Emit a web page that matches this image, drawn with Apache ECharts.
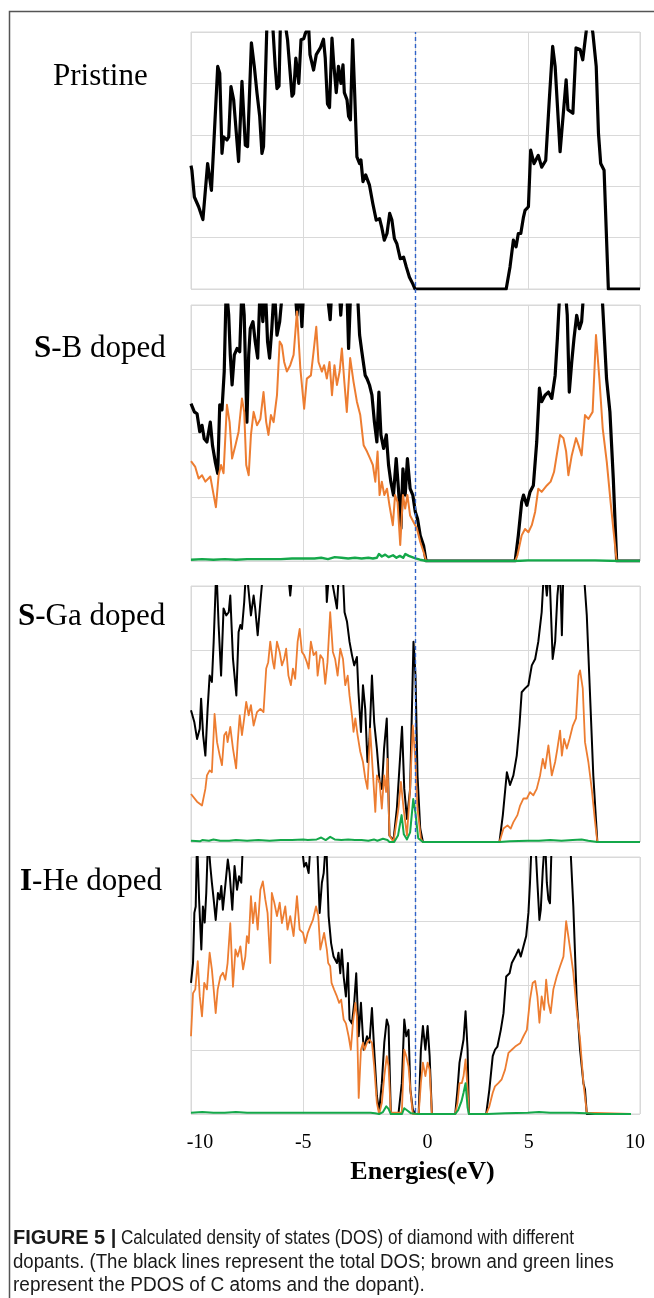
<!DOCTYPE html>
<html>
<head>
<meta charset="utf-8">
<script src="https://cdn.jsdelivr.net/npm/echarts@6/dist/echarts.min.js"></script>
<style>
  html, body { margin: 0; padding: 0; background: #ffffff; }
  #chart { width: 654px; height: 1298px; }
</style>
</head>
<body>
<div id="chart"></div>
<script>
// Energy axis ticks (eV)
const energyTicks = [-10, -5, 0, 5, 10];
const energyTitle = 'Energies(eV)';
const panelNames = ['Pristine', 'S-B doped', 'S-Ga doped', 'I-He doped'];
const captionLead = 'FIGURE 5 |';
const captionLines = [
  'Calculated density of states (DOS) of diamond with different',
  'dopants. (The black lines represent the total DOS; brown and green lines',
  'represent the PDOS of C atoms and the dopant).'
];

// Pristine diamond: total DOS  [energy (eV), DOS]
const pristineTotal = [
  [-10.0, 2.40], [-9.96, 2.31], [-9.85, 1.79], [-9.66, 1.60], [-9.47, 1.35], [-9.26, 2.44], [-9.09, 1.92],
  [-8.99, 2.77], [-8.81, 4.33], [-8.72, 4.20], [-8.62, 2.64], [-8.55, 2.96], [-8.40, 2.90], [-8.32, 2.96],
  [-8.22, 3.94], [-8.10, 3.68], [-7.88, 2.48], [-7.73, 4.04], [-7.58, 2.80], [-7.48, 2.77], [-7.31, 4.79],
  [-7.18, 4.33], [-7.06, 3.81], [-6.94, 3.36], [-6.84, 2.64], [-6.77, 2.77], [-6.59, 5.60], [-6.45, 5.80],
  [-6.25, 4.33], [-6.17, 3.90], [-6.08, 3.95], [-6.00, 5.50], [-5.85, 5.30], [-5.70, 4.85], [-5.50, 3.75],
  [-5.43, 3.80], [-5.33, 4.49], [-5.20, 4.00], [-5.10, 4.85], [-4.98, 4.87], [-4.90, 4.98], [-4.76, 5.10],
  [-4.70, 4.56], [-4.54, 4.26], [-4.42, 4.56], [-4.24, 4.69], [-4.10, 4.86], [-4.02, 4.49], [-3.92, 3.60],
  [-3.83, 3.53], [-3.72, 4.88], [-3.65, 4.43], [-3.53, 3.82], [-3.43, 4.33], [-3.32, 4.00], [-3.23, 4.36],
  [-3.17, 3.82], [-3.05, 3.68], [-2.98, 3.36], [-2.90, 3.29], [-2.80, 4.85], [-2.72, 3.94], [-2.61, 2.57],
  [-2.49, 2.44], [-2.43, 2.51], [-2.34, 2.09], [-2.22, 2.22], [-2.05, 2.02], [-1.90, 1.66], [-1.75, 1.34],
  [-1.60, 1.37], [-1.51, 1.21], [-1.39, 0.95], [-1.27, 1.08], [-1.15, 1.47], [-1.05, 1.34], [-0.94, 0.98],
  [-0.83, 0.88], [-0.68, 0.59], [-0.53, 0.62], [-0.41, 0.43], [-0.27, 0.23], [-0.12, 0.10], [-0.02, 0.0],
  [4.04, 0.0], [4.21, 0.43], [4.36, 0.95], [4.48, 0.82], [4.58, 1.08], [4.69, 1.08], [4.81, 1.40],
  [4.88, 1.53], [5.03, 1.60], [5.13, 2.70], [5.28, 2.44], [5.47, 2.60], [5.62, 2.37], [5.80, 2.50],
  [5.96, 3.68], [6.11, 4.72], [6.22, 4.33], [6.30, 4.33], [6.44, 2.67], [6.52, 2.70], [6.71, 4.07],
  [6.79, 3.49], [7.01, 3.42], [7.15, 4.69], [7.33, 4.66], [7.45, 4.46], [7.60, 5.00], [7.70, 5.50],
  [7.90, 4.98], [8.05, 4.33], [8.15, 3.03], [8.25, 2.44], [8.40, 2.31], [8.59, 0.0], [10.0, 0.0]
];

// S-B doped: total DOS, C-atom PDOS, dopant PDOS
const sbTotal = [
  [-10.0, 2.46], [-9.96, 2.44], [-9.85, 2.33], [-9.73, 2.30], [-9.61, 2.02], [-9.51, 2.12], [-9.41, 1.91],
  [-9.29, 1.86], [-9.14, 2.17], [-9.04, 1.80], [-8.92, 1.55], [-8.81, 1.37], [-8.72, 2.44], [-8.62, 2.36],
  [-8.52, 2.96], [-8.43, 4.30], [-8.32, 3.84], [-8.25, 3.22], [-8.17, 2.75], [-8.07, 3.22], [-7.95, 3.32],
  [-7.83, 3.27], [-7.73, 4.30], [-7.63, 3.84], [-7.51, 2.17], [-7.43, 3.22], [-7.36, 3.63], [-7.24, 3.74],
  [-7.14, 3.43], [-7.03, 3.17], [-6.92, 4.30], [-6.80, 3.74], [-6.69, 4.30], [-6.59, 3.43], [-6.50, 3.17],
  [-6.40, 3.63], [-6.29, 4.30], [-6.17, 3.53], [-6.05, 3.74], [-5.88, 4.40], [-5.40, 4.40], [-5.28, 3.84],
  [-5.16, 4.30], [-5.06, 3.66], [-4.96, 4.40], [-4.00, 4.40], [-3.80, 3.77], [-3.72, 4.30], [-3.40, 4.30],
  [-3.33, 3.84], [-3.24, 4.30], [-3.06, 4.30], [-2.98, 3.32], [-2.88, 4.30], [-2.60, 4.30], [-2.49, 3.53],
  [-2.39, 3.27], [-2.24, 2.90], [-2.16, 2.85], [-2.05, 2.75], [-1.94, 2.59], [-1.83, 2.17], [-1.72, 1.86],
  [-1.63, 2.64], [-1.54, 1.97], [-1.42, 1.76], [-1.30, 1.97], [-1.20, 1.50], [-1.10, 1.24], [-0.98, 1.03],
  [-0.86, 1.60], [-0.76, 1.13], [-0.65, 0.51], [-0.56, 1.44], [-0.46, 1.03], [-0.36, 1.60], [-0.24, 1.13],
  [-0.12, 1.03], [-0.01, 0.77], [0.09, 0.66], [0.21, 0.40], [0.36, 0.24], [0.47, 0.0], [4.44, 0.0],
  [4.58, 0.40], [4.73, 0.92], [4.81, 1.03], [4.96, 0.87], [5.10, 1.08], [5.25, 1.18], [5.40, 1.86],
  [5.52, 2.70], [5.62, 2.49], [5.77, 2.59], [5.92, 2.64], [6.07, 2.54], [6.22, 2.90], [6.32, 3.48],
  [6.44, 4.30], [6.66, 4.30], [6.76, 3.84], [6.85, 2.64], [6.96, 3.11], [7.06, 3.48], [7.18, 3.84],
  [7.30, 3.63], [7.40, 3.74], [7.51, 4.30], [8.29, 4.30], [8.51, 2.85], [8.66, 2.33], [8.81, 1.29],
  [8.96, 0.0], [10.0, 0.0]
];
const sbCarbon = [
  [-10.0, 1.56], [-9.96, 1.55], [-9.81, 1.47], [-9.66, 1.29], [-9.51, 1.34], [-9.36, 1.24], [-9.14, 1.32],
  [-8.99, 1.03], [-8.89, 0.84], [-8.77, 1.34], [-8.66, 1.50], [-8.55, 1.37], [-8.40, 2.44], [-8.28, 2.17],
  [-8.17, 1.60], [-8.02, 1.81], [-7.88, 2.02], [-7.73, 2.54], [-7.63, 2.33], [-7.54, 1.50], [-7.43, 1.34],
  [-7.33, 1.97], [-7.21, 2.33], [-7.06, 2.12], [-6.91, 2.22], [-6.77, 2.64], [-6.65, 2.17], [-6.55, 1.97],
  [-6.44, 2.28], [-6.32, 2.17], [-6.17, 2.59], [-6.05, 3.43], [-5.95, 3.37], [-5.85, 3.11], [-5.73, 2.96],
  [-5.58, 3.06], [-5.43, 3.22], [-5.28, 3.90], [-5.13, 3.01], [-4.96, 2.38], [-4.84, 2.85], [-4.66, 2.90],
  [-4.54, 3.27], [-4.42, 3.66], [-4.32, 3.11], [-4.17, 2.96], [-4.07, 3.06], [-3.95, 2.85], [-3.83, 3.11],
  [-3.72, 2.59], [-3.61, 3.06], [-3.50, 2.75], [-3.38, 2.96], [-3.28, 3.32], [-3.17, 2.80], [-3.06, 2.33],
  [-2.91, 3.17], [-2.76, 2.80], [-2.61, 2.49], [-2.46, 2.28], [-2.31, 1.81], [-2.16, 1.71], [-2.02, 1.60],
  [-1.90, 1.50], [-1.79, 1.24], [-1.69, 1.71], [-1.60, 1.03], [-1.50, 1.24], [-1.39, 1.03], [-1.27, 1.13],
  [-1.16, 0.87], [-1.01, 0.56], [-0.91, 1.03], [-0.80, 0.92], [-0.68, 0.25], [-0.56, 1.03], [-0.46, 0.82],
  [-0.36, 1.03], [-0.24, 0.71], [-0.09, 0.61], [0.06, 0.51], [0.21, 0.30], [0.36, 0.14], [0.47, 0.0],
  [4.44, 0.0], [4.54, 0.09], [4.73, 0.40], [4.88, 0.50], [5.03, 0.45], [5.18, 0.56], [5.33, 0.77],
  [5.47, 1.13], [5.62, 1.08], [5.85, 1.18], [6.02, 1.24], [6.17, 1.39], [6.29, 1.65], [6.44, 1.97],
  [6.59, 1.92], [6.71, 1.71], [6.81, 1.34], [6.96, 1.65], [7.15, 1.92], [7.26, 1.81], [7.40, 1.65],
  [7.55, 2.28], [7.70, 2.22], [7.89, 2.33], [8.04, 3.53], [8.19, 2.85], [8.34, 2.07], [8.52, 1.55],
  [8.69, 0.92], [8.81, 0.51], [8.96, 0.0], [10.0, 0.0]
];
const sbDopant = [
  [-10.0, 0.02], [-9.5, 0.03], [-9.0, 0.02], [-8.5, 0.03], [-8.0, 0.02], [-7.5, 0.03], [-7.0, 0.03],
  [-6.5, 0.03], [-6.0, 0.03], [-5.5, 0.04], [-5.0, 0.04], [-4.5, 0.04], [-4.2, 0.05], [-3.9, 0.03],
  [-3.6, 0.06], [-3.3, 0.05], [-3.0, 0.04], [-2.7, 0.05], [-2.4, 0.04], [-2.1, 0.05], [-1.9, 0.04],
  [-1.72, 0.05], [-1.63, 0.11], [-1.5, 0.07], [-1.35, 0.10], [-1.2, 0.06], [-1.0, 0.09], [-0.85, 0.05],
  [-0.7, 0.08], [-0.55, 0.05], [-0.45, 0.11], [-0.3, 0.08], [-0.15, 0.06], [0.0, 0.04], [0.2, 0.02],
  [0.5, 0.0], [4.5, 0.0], [5.0, 0.01], [6.0, 0.01], [7.0, 0.01], [8.0, 0.01], [9.0, 0.0], [10.0, 0.0]
];

// S-Ga doped: total DOS, C-atom PDOS, dopant PDOS
const sgaTotal = [
  [-10.0, 2.06], [-9.96, 2.03], [-9.85, 1.87], [-9.73, 1.61], [-9.61, 1.77], [-9.55, 2.24], [-9.46, 1.67],
  [-9.36, 1.35], [-9.26, 2.08], [-9.17, 2.60], [-9.07, 2.50], [-8.99, 3.13], [-8.87, 4.30], [-8.77, 3.39],
  [-8.66, 2.60], [-8.55, 3.65], [-8.43, 3.54], [-8.32, 3.59], [-8.25, 3.85], [-8.13, 2.86], [-7.98, 2.29],
  [-7.88, 3.28], [-7.80, 3.39], [-7.73, 3.33], [-7.63, 3.75], [-7.54, 4.30], [-7.43, 3.91], [-7.33, 3.54],
  [-7.21, 3.85], [-7.14, 3.65], [-7.03, 3.23], [-6.91, 3.75], [-6.77, 4.30], [-5.70, 4.30], [-5.58, 3.85],
  [-5.46, 4.30], [-4.00, 4.30], [-3.95, 3.75], [-3.83, 4.30], [-3.50, 3.65], [-3.40, 4.30], [-3.25, 4.30],
  [-3.16, 3.59], [-3.05, 3.44], [-2.94, 3.13], [-2.83, 2.92], [-2.73, 2.76], [-2.61, 2.89], [-2.54, 2.34],
  [-2.43, 1.72], [-2.34, 2.45], [-2.24, 2.08], [-2.14, 1.25], [-2.05, 1.61], [-1.94, 2.60], [-1.84, 1.87],
  [-1.72, 1.46], [-1.60, 0.94], [-1.50, 0.83], [-1.40, 1.46], [-1.28, 1.93], [-1.16, 0.10], [-0.98, 0.03],
  [-0.83, 0.52], [-0.60, 1.80], [-0.50, 0.83], [-0.38, 0.36], [-0.24, 0.83], [-0.09, 3.13], [0.00, 2.60],
  [0.09, 1.04], [0.21, 0.21], [0.33, 0.0], [3.74, 0.0], [3.89, 0.42], [4.07, 1.09], [4.21, 0.89],
  [4.36, 1.04], [4.51, 1.35], [4.63, 1.82], [4.73, 2.34], [4.88, 2.40], [5.03, 2.45], [5.18, 2.76],
  [5.33, 2.86], [5.47, 3.13], [5.62, 3.59], [5.73, 4.30], [5.85, 3.85], [5.96, 4.30], [6.11, 2.86],
  [6.22, 3.13], [6.32, 3.85], [6.44, 4.30], [6.52, 3.23], [6.59, 4.30], [7.48, 4.30], [7.63, 3.54],
  [7.77, 2.34], [7.92, 1.04], [8.10, 0.0], [10.0, 0.0]
];
const sgaCarbon = [
  [-10.0, 0.75], [-9.96, 0.73], [-9.73, 0.63], [-9.51, 0.57], [-9.36, 0.83], [-9.29, 1.04], [-9.17, 1.12],
  [-9.07, 1.09], [-8.95, 2.00], [-8.84, 1.56], [-8.72, 1.35], [-8.62, 1.20], [-8.52, 1.67], [-8.43, 1.72],
  [-8.37, 1.56], [-8.25, 1.80], [-8.13, 1.46], [-7.99, 1.15], [-7.92, 1.56], [-7.83, 1.98], [-7.73, 1.67],
  [-7.63, 1.93], [-7.54, 2.19], [-7.43, 1.98], [-7.33, 2.14], [-7.21, 1.82], [-7.06, 2.03], [-6.91, 2.08],
  [-6.77, 2.03], [-6.65, 2.71], [-6.56, 2.81], [-6.47, 3.13], [-6.35, 2.81], [-6.29, 2.71], [-6.17, 3.13],
  [-6.05, 2.97], [-5.95, 2.76], [-5.85, 2.86], [-5.76, 3.02], [-5.66, 2.60], [-5.55, 2.45], [-5.46, 2.71],
  [-5.36, 2.55], [-5.25, 3.13], [-5.16, 3.33], [-5.06, 2.97], [-4.96, 2.92], [-4.84, 2.81], [-4.76, 2.71],
  [-4.66, 3.13], [-4.54, 2.92], [-4.42, 2.97], [-4.36, 2.60], [-4.24, 2.92], [-4.12, 2.86], [-4.02, 2.47],
  [-3.92, 2.81], [-3.80, 3.59], [-3.68, 2.97], [-3.58, 2.86], [-3.47, 2.60], [-3.35, 3.02], [-3.23, 2.86],
  [-3.13, 2.45], [-3.02, 2.60], [-2.94, 2.29], [-2.83, 1.98], [-2.76, 1.72], [-2.68, 1.93], [-2.58, 1.67],
  [-2.46, 1.41], [-2.34, 1.25], [-2.24, 1.00], [-2.14, 0.83], [-2.02, 1.77], [-1.90, 1.09], [-1.79, 0.47],
  [-1.72, 1.04], [-1.60, 0.94], [-1.50, 0.52], [-1.40, 1.04], [-1.31, 0.78], [-1.25, 1.30], [-1.16, 0.10],
  [-0.98, 0.0], [-0.76, 0.52], [-0.65, 0.94], [-0.53, 0.52], [-0.38, 0.10], [-0.24, 0.83], [-0.12, 1.82],
  [-0.01, 1.30], [0.09, 0.52], [0.24, 0.05], [0.33, 0.0], [3.74, 0.0], [3.92, 0.21], [4.10, 0.26],
  [4.24, 0.21], [4.36, 0.31], [4.54, 0.42], [4.66, 0.57], [4.81, 0.68], [4.96, 0.68], [5.10, 0.78],
  [5.25, 0.73], [5.40, 0.83], [5.55, 1.04], [5.67, 1.30], [5.77, 1.15], [5.92, 1.51], [6.07, 1.04],
  [6.22, 1.25], [6.32, 1.46], [6.44, 1.74], [6.52, 1.35], [6.62, 1.61], [6.74, 1.46], [6.86, 1.61],
  [7.01, 1.82], [7.15, 1.93], [7.26, 2.60], [7.33, 2.68], [7.45, 2.40], [7.55, 1.56], [7.70, 1.25],
  [7.85, 0.83], [8.00, 0.31], [8.10, 0.0], [10.0, 0.0]
];
const sgaDopant = [
  [-10.0, 0.02], [-9.6, 0.01], [-9.5, 0.03], [-9.2, 0.02], [-9.0, 0.04], [-8.7, 0.02], [-8.3, 0.02],
  [-8.0, 0.03], [-7.5, 0.02], [-7.0, 0.03], [-6.5, 0.02], [-6.0, 0.03], [-5.5, 0.03], [-5.0, 0.04],
  [-4.8, 0.03], [-4.4, 0.04], [-4.2, 0.07], [-4.0, 0.03], [-3.8, 0.08], [-3.6, 0.04], [-3.3, 0.03],
  [-3.0, 0.04], [-2.7, 0.03], [-2.4, 0.03], [-2.1, 0.02], [-1.85, 0.04], [-1.7, 0.02], [-1.45, 0.05],
  [-1.25, 0.03], [-1.16, 0.0], [-0.95, 0.0], [-0.78, 0.10], [-0.62, 0.42], [-0.52, 0.12], [-0.38, 0.04],
  [-0.24, 0.15], [-0.10, 0.67], [0.0, 0.45], [0.12, 0.06], [0.33, 0.0], [3.74, 0.0], [4.2, 0.01],
  [5.0, 0.02], [5.5, 0.02], [6.0, 0.03], [6.5, 0.02], [7.0, 0.03], [7.4, 0.04], [7.7, 0.02], [8.1, 0.0],
  [10.0, 0.0]
];

// I-He doped: total DOS, C-atom PDOS, dopant PDOS
const iheTotal = [
  [-10.0, 2.04], [-9.91, 2.35], [-9.85, 3.13], [-9.79, 3.23], [-9.73, 4.30], [-9.64, 3.34], [-9.54, 2.56],
  [-9.47, 3.23], [-9.39, 2.98], [-9.32, 3.44], [-9.24, 4.30], [-9.14, 3.86], [-9.07, 3.60], [-8.99, 3.34],
  [-8.90, 3.02], [-8.80, 3.44], [-8.72, 3.34], [-8.65, 3.55], [-8.58, 3.18], [-8.46, 3.60], [-8.36, 3.96],
  [-8.28, 3.75], [-8.16, 3.18], [-8.06, 3.86], [-7.95, 3.49], [-7.86, 3.70], [-7.76, 3.60], [-7.68, 4.30],
  [-5.10, 4.30], [-4.96, 3.85], [-4.87, 3.91], [-4.76, 3.75], [-4.66, 4.30], [-4.39, 4.30], [-4.27, 3.13],
  [-4.17, 3.60], [-4.09, 3.75], [-3.98, 4.30], [-3.87, 3.08], [-3.76, 2.66], [-3.65, 2.45], [-3.50, 2.35],
  [-3.43, 2.51], [-3.35, 2.19], [-3.28, 2.56], [-3.20, 2.14], [-3.10, 1.83], [-3.01, 2.35], [-2.94, 1.47],
  [-2.83, 1.41], [-2.73, 1.73], [-2.64, 2.19], [-2.53, 1.21], [-2.43, 1.73], [-2.31, 1.00], [-2.16, 1.21],
  [-2.05, 1.11], [-1.94, 1.65], [-1.84, 1.00], [-1.72, 0.28], [-1.62, 0.04], [-1.50, 0.48], [-1.39, 1.11],
  [-1.28, 1.47], [-1.20, 1.37], [-1.10, 0.02], [-0.98, 0.0], [-0.76, 0.0], [-0.61, 0.48], [-0.50, 1.47],
  [-0.41, 1.21], [-0.31, 1.31], [-0.23, 0.38], [-0.12, 0.07], [-0.01, 0.0], [0.14, 0.0], [0.24, 1.00],
  [0.33, 1.37], [0.44, 1.00], [0.54, 1.37], [0.63, 0.90], [0.73, 0.0], [1.77, 0.0], [1.87, 0.38],
  [1.96, 0.80], [2.06, 1.00], [2.14, 1.16], [2.23, 1.60], [2.32, 1.00], [2.38, 0.0], [3.15, 0.0],
  [3.29, 0.38], [3.44, 0.90], [3.54, 1.00], [3.65, 1.05], [3.80, 1.31], [3.92, 1.57], [4.04, 2.14],
  [4.19, 2.19], [4.29, 2.35], [4.44, 2.45], [4.59, 2.56], [4.69, 2.45], [4.81, 2.61], [4.93, 2.77],
  [5.03, 3.13], [5.10, 3.60], [5.18, 4.30], [5.33, 4.30], [5.43, 3.60], [5.52, 3.02], [5.58, 3.18],
  [5.67, 3.80], [5.77, 4.30], [5.85, 3.60], [5.92, 3.34], [5.99, 3.28], [6.07, 4.30], [6.88, 4.30],
  [7.03, 3.23], [7.18, 1.78], [7.33, 1.00], [7.48, 0.48], [7.55, 0.38], [7.63, 0.0], [9.6, 0.0]
];
const iheCarbon = [
  [-10.0, 1.21], [-9.91, 1.88], [-9.81, 1.94], [-9.70, 2.38], [-9.61, 1.83], [-9.51, 1.52], [-9.41, 2.04],
  [-9.29, 1.94], [-9.17, 2.51], [-9.07, 2.25], [-8.99, 1.94], [-8.90, 1.57], [-8.81, 1.94], [-8.69, 2.14],
  [-8.58, 2.20], [-8.47, 2.09], [-8.37, 2.35], [-8.25, 2.97], [-8.13, 1.98], [-8.02, 2.56], [-7.92, 2.45],
  [-7.80, 2.61], [-7.68, 2.25], [-7.58, 2.45], [-7.51, 2.77], [-7.43, 2.66], [-7.33, 3.39], [-7.24, 2.97],
  [-7.14, 3.29], [-7.03, 2.87], [-6.91, 3.49], [-6.80, 3.62], [-6.69, 3.34], [-6.59, 3.13], [-6.47, 2.35],
  [-6.40, 3.44], [-6.29, 3.29], [-6.17, 3.08], [-6.05, 3.29], [-5.95, 2.97], [-5.80, 3.23], [-5.70, 2.87],
  [-5.58, 3.08], [-5.43, 2.77], [-5.28, 3.39], [-5.16, 2.87], [-5.01, 2.82], [-4.91, 2.66], [-4.80, 2.82],
  [-4.69, 2.92], [-4.57, 3.02], [-4.43, 3.23], [-4.33, 3.08], [-4.24, 2.56], [-4.14, 2.71], [-4.07, 2.82],
  [-3.95, 2.56], [-3.89, 2.35], [-3.80, 2.30], [-3.74, 2.04], [-3.63, 1.94], [-3.50, 1.83], [-3.40, 1.73],
  [-3.31, 1.78], [-3.20, 1.47], [-3.10, 1.41], [-2.98, 1.21], [-2.88, 1.00], [-2.79, 1.41], [-2.68, 1.73],
  [-2.61, 1.52], [-2.53, 0.25], [-2.43, 1.00], [-2.34, 1.11], [-2.27, 1.00], [-2.16, 1.11], [-2.05, 1.16],
  [-1.94, 1.11], [-1.84, 0.74], [-1.72, 0.17], [-1.62, 0.0], [-1.50, 0.17], [-1.39, 0.59], [-1.28, 0.90],
  [-1.20, 0.74], [-1.10, 0.02], [-0.61, 0.02], [-0.50, 1.00], [-0.41, 0.90], [-0.31, 0.74], [-0.23, 0.38],
  [-0.12, 0.0], [0.14, 0.0], [0.24, 0.48], [0.33, 0.80], [0.44, 0.59], [0.54, 0.80], [0.63, 0.69],
  [0.73, 0.0], [1.77, 0.0], [1.87, 0.17], [1.96, 0.48], [2.06, 0.48], [2.14, 0.59], [2.23, 0.85],
  [2.32, 0.38], [2.38, 0.0], [3.15, 0.0], [3.29, 0.12], [3.44, 0.33], [3.54, 0.43], [3.69, 0.48],
  [3.84, 0.54], [3.99, 0.69], [4.14, 0.95], [4.29, 1.00], [4.44, 1.05], [4.66, 1.10], [4.81, 1.21],
  [4.96, 1.31], [5.10, 1.78], [5.22, 2.04], [5.33, 2.07], [5.43, 1.83], [5.52, 1.42], [5.62, 1.83],
  [5.73, 1.62], [5.82, 2.09], [5.92, 1.73], [6.02, 1.57], [6.14, 1.94], [6.29, 2.14], [6.44, 2.30],
  [6.59, 2.45], [6.71, 3.00], [6.81, 2.76], [6.91, 2.51], [7.03, 2.20], [7.18, 1.62], [7.33, 1.16],
  [7.48, 0.48], [7.63, 0.02], [7.70, 0.0], [9.6, 0.0]
];
const iheDopant = [
  [-10.0, 0.02], [-9.5, 0.03], [-9.0, 0.02], [-8.5, 0.02], [-8.0, 0.03], [-7.5, 0.02], [-7.0, 0.02],
  [-6.5, 0.02], [-6.0, 0.02], [-5.5, 0.02], [-5.0, 0.02], [-4.5, 0.02], [-4.0, 0.02], [-3.5, 0.02],
  [-3.0, 0.02], [-2.5, 0.02], [-2.0, 0.02], [-1.8, 0.01], [-1.62, 0.0], [-1.45, 0.03], [-1.3, 0.12],
  [-1.2, 0.08], [-1.1, 0.0], [-0.6, 0.0], [-0.5, 0.09], [-0.35, 0.05], [-0.2, 0.01], [0.1, 0.0],
  [0.73, 0.0], [1.77, 0.0], [1.9, 0.06], [2.05, 0.20], [2.14, 0.33], [2.23, 0.48], [2.32, 0.10],
  [2.38, 0.0], [3.2, 0.0], [4.0, 0.01], [5.0, 0.02], [5.5, 0.03], [6.0, 0.02], [7.0, 0.02], [7.6, 0.01],
  [8.0, 0.0], [9.6, 0.0]
];

// Fermi level marker
const fermiLevel = [[0, 0], [0, 1]];

const panelMax = [5, 4, 4, 4];
const panelSeries = [
  { total: pristineTotal, carbon: null, dopant: null },
  { total: sbTotal, carbon: sbCarbon, dopant: sbDopant },
  { total: sgaTotal, carbon: sgaCarbon, dopant: sgaDopant },
  { total: iheTotal, carbon: iheCarbon, dopant: iheDopant }
];

const COLOR_TOTAL = '#000000';
const COLOR_C = '#ED7D31';
const COLOR_DOPANT = '#14A84A';
const GRID_COLOR = '#d9d9d9';
const SERIF = '"Liberation Serif", "Times New Roman", "DejaVu Serif", serif';
const SANS = '"Liberation Sans", Arial, sans-serif';

const gridBoxes = [
  { top: 32, height: 257 },
  { top: 305, height: 256 },
  { top: 586, height: 256 },
  { top: 857, height: 257 }
];
const lineWidths = [
  { total: 3.2, carbon: 2, dopant: 2.4 },
  { total: 3.2, carbon: 2, dopant: 2.4 },
  { total: 2, carbon: 1.8, dopant: 2 },
  { total: 2, carbon: 1.8, dopant: 2 }
];

const grids = [];
const xAxes = [];
const yAxes = [];
const series = [];

// small nudges of the bottom tick labels (in px), realised with rich-text padding
const tickRich = {
  base: { fontFamily: SERIF, fontSize: 20, color: '#000' },
  m10: { fontFamily: SERIF, fontSize: 20, color: '#000', padding: [0, 0, 0, 18] },
  z0: { fontFamily: SERIF, fontSize: 20, color: '#000', padding: [0, 0, 0, 24] },
  p5: { fontFamily: SERIF, fontSize: 20, color: '#000', padding: [0, 0, 0, 2] },
  p10: { fontFamily: SERIF, fontSize: 20, color: '#000', padding: [0, 10, 0, 0] }
};
const tickStyleKey = { '-10': 'm10', '-5': 'base', '0': 'z0', '5': 'p5', '10': 'p10' };

gridBoxes.forEach((box, i) => {
  grids.push({
    left: 191, width: 449, top: box.top, height: box.height,
    show: true, borderColor: GRID_COLOR, borderWidth: 1, backgroundColor: 'transparent'
  });
  xAxes.push({
    type: 'value', gridIndex: i,
    min: energyTicks[0], max: energyTicks[energyTicks.length - 1], interval: 5,
    axisLine: { show: false }, axisTick: { show: false },
    splitLine: { show: true, lineStyle: { color: GRID_COLOR, width: 1 } },
    axisLabel: i === 3 ? {
      show: true, margin: 19,
      formatter: (v) => '{' + (tickStyleKey[String(v)] || 'base') + '|' + v + '}',
      rich: tickRich
    } : { show: false },
    name: i === 3 ? energyTitle : '',
    nameLocation: 'middle', nameGap: 45,
    nameTextStyle: { fontFamily: SERIF, fontSize: 26, fontWeight: 'bold', color: '#000', padding: [0, 0, 0, 14] }
  });
  yAxes.push({
    type: 'value', gridIndex: i, min: 0, max: panelMax[i], interval: 1,
    axisLine: { show: false }, axisTick: { show: false }, axisLabel: { show: false },
    splitLine: { show: true, lineStyle: { color: GRID_COLOR, width: 1 } }
  });
  const p = panelSeries[i];
  const w = lineWidths[i];
  const mk = (name, data, color, width) => ({
    name, type: 'line', xAxisIndex: i, yAxisIndex: i, data,
    showSymbol: false, symbol: 'none', clip: true, smooth: false,
    lineStyle: { color, width, join: 'round' }, silent: true
  });
  series.push(mk(panelNames[i] + ' total', p.total, COLOR_TOTAL, w.total));
  if (p.carbon) series.push(mk(panelNames[i] + ' C', p.carbon, COLOR_C, w.carbon));
  if (p.dopant) series.push(mk(panelNames[i] + ' dopant', p.dopant, COLOR_DOPANT, w.dopant));
});

// overlay grid spanning all four panels for the Fermi-level line
grids.push({ left: 191, width: 449, top: 32, height: 1080, show: false });
xAxes.push({ type: 'value', gridIndex: 4, min: -10, max: 10, show: false });
yAxes.push({ type: 'value', gridIndex: 4, min: 0, max: 1, show: false });
series.push({
  name: 'Fermi level', type: 'line', xAxisIndex: 4, yAxisIndex: 4, data: fermiLevel,
  showSymbol: false, symbol: 'none', silent: true,
  lineStyle: { color: '#2F62C8', width: 1.4, type: [4, 3] }, z: 5
});

// panel labels
const labelPos = [
  { x: 53, y: 77 }, { x: 34, y: 349 }, { x: 18, y: 617 }, { x: 20, y: 882 }
];
const labelText = [
  '{n|Pristine}',
  '{b|S}{n|-B doped}',
  '{b|S}{n|-Ga doped}',
  '{b|I}{n|-He doped}'
];
const labelRich = {
  n: { fontFamily: SERIF, fontSize: 31, color: '#000' },
  b: { fontFamily: SERIF, fontSize: 31, fontWeight: 'bold', color: '#000' }
};
const graphics = labelPos.map((p, i) => ({
  type: 'text', x: p.x, y: p.y, silent: true,
  style: { text: labelText[i], rich: labelRich, align: 'left', verticalAlign: 'middle' }
}));

// caption, set in a condensed sans: a regular face squeezed horizontally
const captionFont = { fontFamily: SANS, fontSize: 20, fill: '#1a1a1a', align: 'left', verticalAlign: 'middle' };
const captionY = [1238, 1262, 1285];
const captionX = [121, 13, 13];
const captionScale = [0.855, 0.93, 0.95];
graphics.push({
  type: 'text', x: 13, y: captionY[0], scaleX: 1.0, silent: true,
  style: Object.assign({ text: captionLead, fontWeight: 'bold' }, captionFont)
});
captionLines.forEach((line, i) => {
  graphics.push({
    type: 'text', x: captionX[i], y: captionY[i], scaleX: captionScale[i], silent: true,
    style: Object.assign({ text: line }, captionFont)
  });
});

// outer frame (top and left edges)
graphics.push({
  type: 'polyline', silent: true,
  shape: { points: [[9.5, 1298], [9.5, 11.5], [654, 11.5]] },
  style: { stroke: '#555555', lineWidth: 1.5, fill: null }
});

const chart = echarts.init(document.getElementById('chart'), null, { renderer: 'canvas' });
chart.setOption({
  backgroundColor: '#ffffff',
  animation: false,
  grid: grids,
  xAxis: xAxes,
  yAxis: yAxes,
  series: series,
  graphic: graphics
});
</script>
</body>
</html>
